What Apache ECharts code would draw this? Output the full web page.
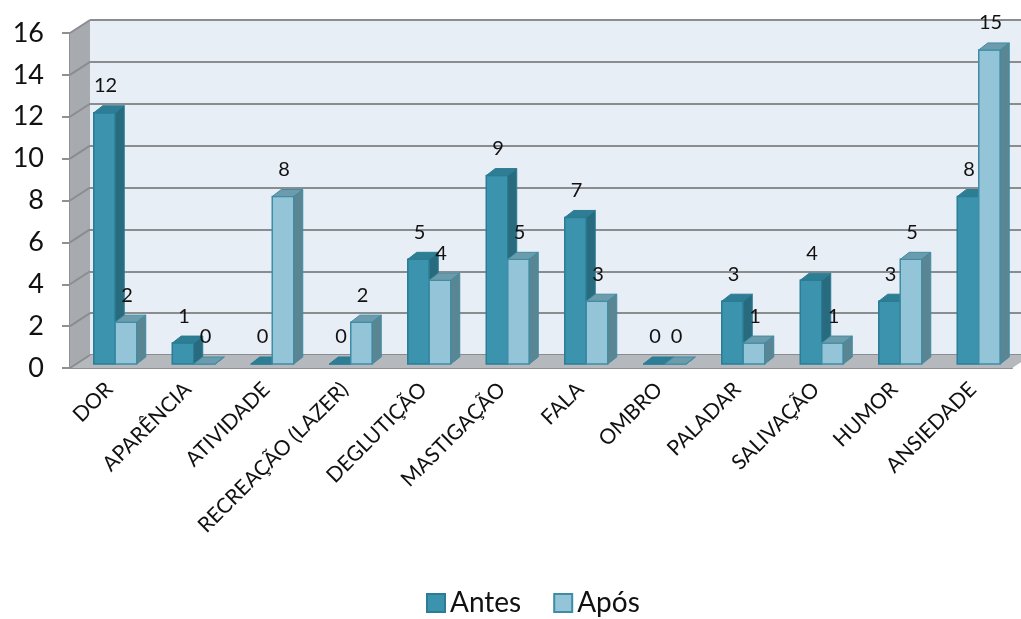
<!DOCTYPE html>
<html>
<head>
<meta charset="utf-8">
<script src="https://cdn.jsdelivr.net/npm/echarts@6/dist/echarts.min.js"></script>
<style>
  html, body { margin: 0; padding: 0; background: #fff; }
  #main { width: 1021px; height: 619px; }
</style>
</head>
<body>
<div id="main"></div>
<script>
var myChart = echarts.init(document.getElementById('main'));

// dados
var categorias = ['DOR', 'APARÊNCIA', 'ATIVIDADE', 'RECREAÇÃO (LAZER)', 'DEGLUTIÇÃO', 'MASTIGAÇÃO',
    'FALA', 'OMBRO', 'PALADAR', 'SALIVAÇÃO', 'HUMOR', 'ANSIEDADE'];
var antes = [12, 1, 0, 0, 5, 9, 7, 0, 3, 4, 3, 8];
var apos = [2, 0, 8, 2, 4, 5, 3, 0, 1, 1, 5, 15];
var yTicks = [0, 2, 4, 6, 8, 10, 12, 14, 16];

// perspectiva
var WALL_DX = 20, WALL_DY = -13;   // profundidade das paredes
var BAR_OX = 6, BAR_OY = -4;       // posicao da face frontal da barra
var BAR_DX = 9, BAR_DY = -7;       // profundidade da barra
var BAR_W = 21.5;

var cores = {
    antes: { front: '#3b93ad', border: '#2b7c94', top: '#2d7d94', side: '#296b7e' },
    apos:  { front: '#93c4d7', border: '#3f8ca5', top: '#6c9cac', side: '#5a8693' }
};

function barra(lado, c) {
    return function (params, api) {
        var idx = api.value(0), val = api.value(1);
        var base = api.coord([idx, 0]);
        var topo = api.coord([idx, val]);
        var xl = lado === 0 ? base[0] - BAR_W + BAR_OX : base[0] + BAR_OX;
        var yb = base[1] + BAR_OY;
        var yt = topo[1] + BAR_OY;
        var xr = xl + BAR_W;
        return {
            type: 'group',
            children: [
                { type: 'rect', shape: { x: xl, y: yt, width: BAR_W, height: yb - yt },
                  style: { fill: c.front, stroke: c.border, lineWidth: 1.5 } },
                { type: 'polygon', shape: { points: [[xl, yt], [xr, yt], [xr + BAR_DX, yt + BAR_DY], [xl + BAR_DX, yt + BAR_DY]] },
                  style: { fill: c.top, stroke: c.border, lineWidth: 1 } },
                { type: 'polygon', shape: { points: [[xr, yt], [xr + BAR_DX, yt + BAR_DY], [xr + BAR_DX, yb + BAR_DY], [xr, yb]] },
                  style: { fill: c.side, stroke: c.border, lineWidth: 1 } },
                { type: 'text', style: { text: String(val), x: xl + BAR_W / 2 + 1, y: yt - 27,
                  align: 'center', verticalAlign: 'middle', fontSize: 20, fontFamily: 'Lato', fill: '#111' } }
            ]
        };
    };
}

function paredes(params, api) {
    var cs = params.coordSys;
    var x0 = cs.x, yTop = cs.y, yb = cs.y + cs.height, x1 = cs.x + cs.width;
    var kids = [
        { type: 'polygon', shape: { points: [[x0, yTop], [x0 + WALL_DX, yTop + WALL_DY], [x0 + WALL_DX, yb + WALL_DY], [x0, yb]] },
          style: { fill: '#a7aaae' } },
        { type: 'polygon', shape: { points: [[x0, yb], [x1, yb], [x1 + WALL_DX, yb + WALL_DY], [x0 + WALL_DX, yb + WALL_DY]] },
          style: { fill: '#b5b8bc' } }
    ];
    yTicks.forEach(function (v) {
        var y = api.coord([0, v])[1];
        kids.push({ type: 'line', shape: { x1: x0, y1: y, x2: x0 + WALL_DX, y2: y + WALL_DY },
            style: { stroke: '#8a8d90', lineWidth: 2 } });
    });
    return { type: 'group', children: kids };
}

var option = {
    backgroundColor: '#ffffff',
    textStyle: { fontFamily: 'Lato' },
    legend: {
        bottom: -3,
        left: 421,
        itemWidth: 18,
        itemHeight: 18,
        itemGap: 32,
        icon: 'rect',
        textStyle: { fontSize: 28, color: '#111', fontFamily: 'Lato' },
        data: ['Antes', 'Após']
    },
    grid: [
        { left: 70, top: 33, width: 942, height: 335 },
        { left: 90, top: 20, width: 942, height: 335, show: true, backgroundColor: '#e8eef6', borderWidth: 0 }
    ],
    xAxis: [
        { type: 'category', gridIndex: 0, data: categorias,
          axisLine: { lineStyle: { color: '#8e9194', width: 2 } },
          axisTick: { length: 8, lineStyle: { color: '#8e9194', width: 2 } },
          axisLabel: { rotate: 45, fontSize: 21, color: '#111', margin: 18, interval: 0 } },
        { type: 'category', gridIndex: 1, data: categorias, show: false }
    ],
    yAxis: [
        { type: 'value', gridIndex: 0, min: 0, max: 16, interval: 2,
          axisLine: { show: true, lineStyle: { color: '#8e9194', width: 2 } },
          axisTick: { show: true, length: 8, lineStyle: { color: '#8e9194', width: 2 } },
          axisLabel: { fontSize: 27, color: '#111', margin: 26 },
          splitLine: { show: false } },
        { type: 'value', gridIndex: 1, min: 0, max: 16, interval: 2,
          axisLine: { show: false }, axisTick: { show: false }, axisLabel: { show: false },
          splitLine: { show: true, lineStyle: { color: '#8a8d90', width: 2 } } }
    ],
    series: [
        { type: 'custom', name: 'paredes', xAxisIndex: 0, yAxisIndex: 0, z: 1, silent: true,
          renderItem: paredes, data: [[0, 0]], clip: false },
        { type: 'custom', name: 'Antes', xAxisIndex: 0, yAxisIndex: 0, z: 3,
          itemStyle: { color: cores.antes.front, borderColor: cores.antes.border, borderWidth: 1 },
          renderItem: barra(0, cores.antes), encode: { x: 0, y: 1 },
          data: antes.map(function (v, i) { return [i, v]; }) },
        { type: 'custom', name: 'Após', xAxisIndex: 0, yAxisIndex: 0, z: 4,
          itemStyle: { color: cores.apos.front, borderColor: cores.apos.border, borderWidth: 1 },
          renderItem: barra(1, cores.apos), encode: { x: 0, y: 1 },
          data: apos.map(function (v, i) { return [i, v]; }) }
    ]
};
myChart.setOption(option);
</script>
</body>
</html>
